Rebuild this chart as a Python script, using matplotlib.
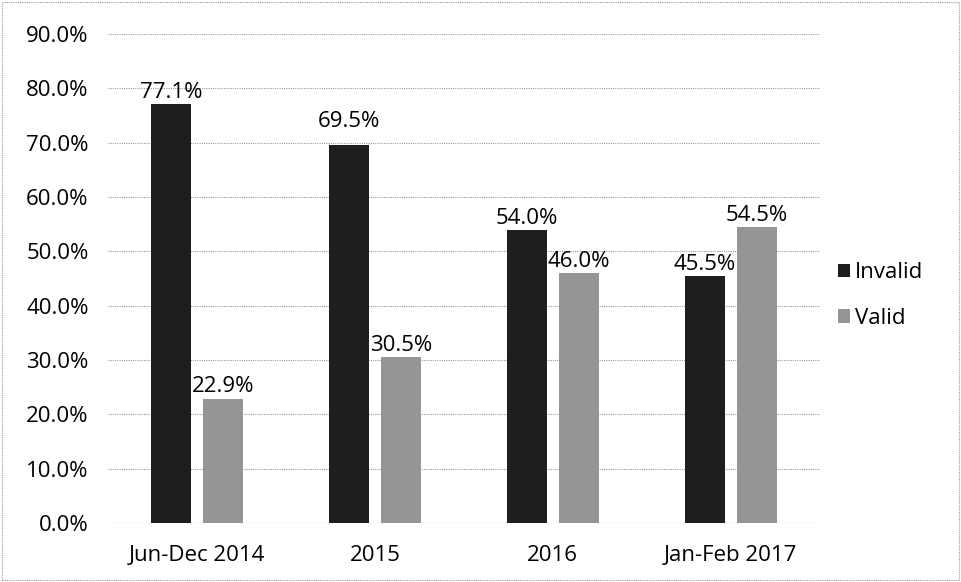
import numpy as np
import matplotlib.pyplot as plt
from matplotlib.patches import Rectangle

categories = ['Jun-Dec 2014', '2015', '2016', 'Jan-Feb 2017']
invalid = [77.1, 69.5, 54.0, 45.5]
valid = [22.9, 30.5, 46.0, 54.5]

plt.rcParams['font.family'] = ['Open Sans', 'DejaVu Sans']
fs = 16

fig = plt.figure(figsize=(9.61, 5.82), dpi=100)
ax = fig.add_axes([0.1124, 0.1014, 0.7406, 0.8402])

x = np.arange(len(categories))
w = 0.225
off = 0.146
b1 = ax.bar(x - off, invalid, w, color='#1e1e1e', label='Invalid', zorder=3)
b2 = ax.bar(x + off, valid, w, color='#959595', label='Valid', zorder=3)

# the 2015 invalid label sits a bit higher in the original
extra = {(0, 1): 2.2}
for k, (bars, vals) in enumerate(((b1, invalid), (b2, valid))):
    for i, (r, v) in enumerate(zip(bars, vals)):
        ax.text(r.get_x() + r.get_width() / 2, v + 0.2 + extra.get((k, i), 0),
                '%.1f%%' % v, ha='center', va='bottom', fontsize=fs, zorder=4)

ax.set_xlim(-0.5, 3.5)
ax.set_ylim(0, 90)
ax.set_yticks(np.arange(0, 91, 10))
ax.set_yticklabels(['%.1f%%' % t for t in np.arange(0, 91, 10)], fontsize=fs)
ax.set_xticks(x)
ax.set_xticklabels(categories, fontsize=fs)
ax.tick_params(axis='y', length=0, pad=14)
ax.tick_params(axis='x', length=0, pad=16)
ax.yaxis.grid(True, color='#9a9a9a', linestyle=(0, (1, 1)), linewidth=0.8, zorder=0)
for s in ax.spines.values():
    s.set_visible(False)
ax.axhline(0, color='#9a9a9a', linestyle=(0, (1, 1)), linewidth=0.8, zorder=2)

ax.legend(loc='center left', bbox_to_anchor=(1.0, 0.465), frameon=False,
          fontsize=fs, handlelength=0.55, handleheight=0.55, labelspacing=1.1,
          handletextpad=0.25, borderaxespad=0.4)

fig.patches.append(Rectangle((0.002, 0.003), 0.996, 0.993, transform=fig.transFigure,
                             fill=False, edgecolor='#999999', linestyle=(0, (1, 1)),
                             linewidth=0.8))

fig.savefig('out.png', dpi=100)
